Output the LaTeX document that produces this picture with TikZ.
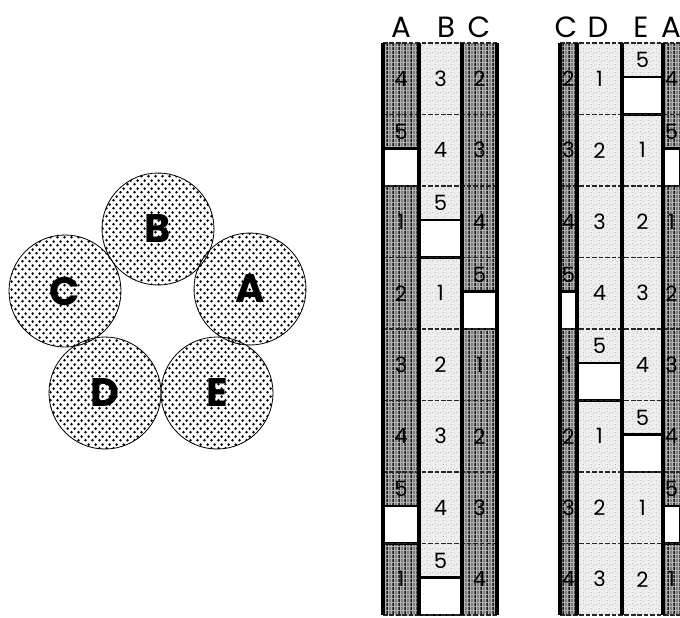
\documentclass[tikz,border=0pt]{standalone}
\usepackage{fontspec}
\usepackage{tikz}
\usetikzlibrary{patterns.meta}
\newfontfamily\geofont{Poppins}
\definecolor{StripDark}{HTML}{B4B4B4}
\definecolor{StripLight}{HTML}{EEEEEE}
\definecolor{SpeckColor}{HTML}{8C8C8C}

\tikzdeclarepattern{
  name=halftone, type=uncolored,
  bounding box={(0pt,0pt) and (6pt,6.5pt)},
  tile size={(6pt,6.5pt)},
  code={
    \fill (1.5pt,1.6pt) circle (1.3pt);
    \fill (4.5pt,4.85pt) circle (1.3pt);
  }
}
\tikzdeclarepattern{
  name=filmlines, type=uncolored,
  bounding box={(0pt,0pt) and (5pt,3pt)},
  tile size={(5pt,3pt)},
  code={
    \fill (0.3pt,0pt) rectangle (1.7pt,3pt);
    \fill (3.2pt,0pt) rectangle (3.8pt,3pt);
  }
}
\tikzdeclarepattern{
  name=speckle, type=uncolored,
  bounding box={(0pt,0pt) and (7pt,7pt)},
  tile size={(7pt,7pt)},
  code={
    \fill (0.8pt,1.2pt) rectangle (1.5pt,1.8pt);
    \fill (4.1pt,0.6pt) rectangle (4.6pt,1.1pt);
    \fill (2.6pt,3.9pt) rectangle (3.3pt,4.4pt);
    \fill (5.5pt,4.6pt) rectangle (6.1pt,5.3pt);
    \fill (1.2pt,6.0pt) rectangle (1.7pt,6.5pt);
  }
}

\tikzset{
  disc/.style={circle, draw=black, line width=0.7pt, minimum size=3.36cm,
    inner sep=0pt, pattern=halftone, pattern color=black,
    font=\geofont\bfseries\fontsize{34}{34}\selectfont},
  darkcol/.style={fill=StripDark, postaction={pattern=filmlines, pattern color=black!90}},
  lightcol/.style={fill=StripLight, postaction={pattern=speckle, pattern color=SpeckColor}},
  cellnum/.style={font=\geofont\fontsize{18}{18}\selectfont, inner sep=0pt},
  collabel/.style={font=\geofont\fontsize{25}{25}\selectfont, inner sep=0pt},
  gapbox/.style={fill=white, draw=black, line width=2.4pt},
  rowline/.style={draw=black!85, line width=1pt, dash pattern=on 4pt off 1.5pt},
  divider/.style={draw=black, line width=2.6pt}
}

% one column of a strip: left, right, top number, look, name
\newcommand{\filmcol}[5]{%
  \fill[#4] (#1,43) rectangle (#2,615);
  \foreach \r in {0,...,7}{
    \pgfmathtruncatemacro{\n}{mod(#3-1+\r,5)+1}
    \pgfmathsetmacro{\yt}{43+71.5*\r}
    \ifnum\n=5
      \node[cellnum] (#5-\r) at ({(#1+#2)/2},\yt+17) {5};
      \draw[gapbox] (#1,\yt+34) rectangle (#2,\yt+71.5);
    \else
      \node[cellnum] (#5-\r) at ({(#1+#2)/2},\yt+35.75) {\n};
    \fi
  }
}

\begin{document}
\begin{tikzpicture}[x=0.03cm, y=-0.03cm]
  \useasboundingbox (0,0) rectangle (680,617);

  % the five rolls
  \node[disc] (rollB) at (158,229) {B};
  \node[disc] (rollC) at (65,291) {C};
  \node[disc] (rollA) at (250,289) {A};
  \node[disc] (rollD) at (105,393) {D};
  \node[disc] (rollE) at (217,393) {E};

  % first strip
  \filmcol{383}{419}{4}{darkcol}{sA}
  \filmcol{419}{462}{3}{lightcol}{sB}
  \filmcol{462}{497}{2}{darkcol}{sC}
  \foreach \k in {0,...,8}
    \draw[rowline] (383,43+71.5*\k) -- (497,43+71.5*\k);
  \foreach \x in {383,419,462,497}
    \draw[divider] (\x,43) -- (\x,615);

  % second strip
  \filmcol{560}{577}{2}{darkcol}{tC}
  \filmcol{577}{622}{1}{lightcol}{tD}
  \filmcol{622}{663}{5}{lightcol}{tE}
  \filmcol{663}{680}{4}{darkcol}{tA}
  \foreach \k in {0,...,8}
    \draw[rowline] (560,43+71.5*\k) -- (680,43+71.5*\k);
  \foreach \x in {560,577,622,663}
    \draw[divider] (\x,43) -- (\x,615);

  % labels
  \node[collabel] (hA1) at (401,27) {A};
  \node[collabel] (hB1) at (446,27) {B};
  \node[collabel] (hC1) at (479,27) {C};
  \node[collabel] (hC2) at (566,27) {C};
  \node[collabel] (hD2) at (598,27) {D};
  \node[collabel] (hE2) at (641,27) {E};
  \node[collabel] (hA2) at (671,27) {A};
\end{tikzpicture}
\end{document}
